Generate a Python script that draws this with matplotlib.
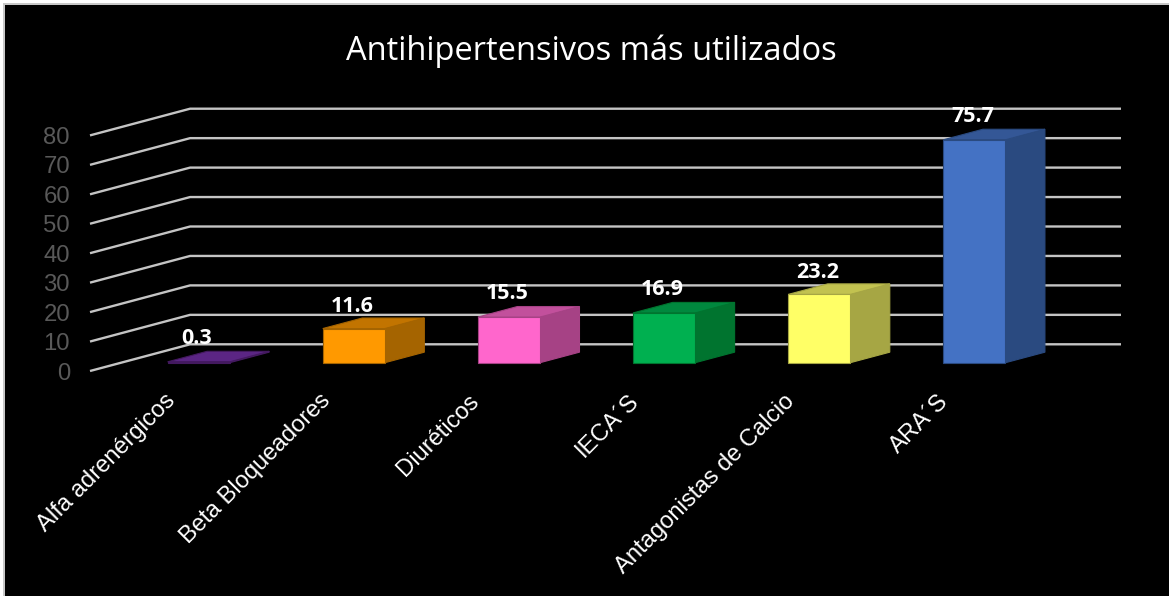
"""Antihipertensivos chart drawn as a fake 3D column chart."""

import matplotlib

matplotlib.use("Agg")
import matplotlib.pyplot as plt
from matplotlib.patches import Polygon, Rectangle

categories = [
    "Alfa adrenérgicos",
    "Beta Bloqueadores",
    "Diuréticos",
    "IECA´S",
    "Antagonistas de Calcio",
    "ARA´S",
]
values = [0.3, 11.6, 15.5, 16.9, 23.2, 75.7]
y_ticks = [0, 10, 20, 30, 40, 50, 60, 70, 80]
front_colors = ["#5b2584", "#ff9900", "#ff66cc", "#00b050", "#ffff66", "#4472c4"]
top_colors = ["#5b2584", "#c27400", "#c2509c", "#00883e", "#c2c250", "#345796"]
side_colors = ["#43195f", "#a56400", "#a64285", "#00742f", "#a6a644", "#2a4a80"]
# label offsets from the bar top, the source placed them by hand
label_nudge = [4.5, 4.0, 4.4, 4.5, 4.0, 4.4]
# axis label ends do not sit evenly under the bars in the source
category_nudge = [-3, -3, -10, -5, -5, -6]

W, H = 1169, 596
DEPTH_X = 100 / 155  # wall depth in category units
DEPTH_Y = 26.7 / 2.945  # wall depth in value units
BAR_WIDTH = 0.4
BAR_D0, BAR_D1 = 0.31, 0.705


def project(x, v, d):
    return x + d * DEPTH_X, v + d * DEPTH_Y


def draw_bar(ax, i, value, front, top, side):
    left = i - BAR_WIDTH / 2
    right = i + BAR_WIDTH / 2
    corners = {
        "fbl": project(left, 0, BAR_D0),
        "fbr": project(right, 0, BAR_D0),
        "ftl": project(left, value, BAR_D0),
        "ftr": project(right, value, BAR_D0),
        "bbr": project(right, 0, BAR_D1),
        "btl": project(left, value, BAR_D1),
        "btr": project(right, value, BAR_D1),
    }
    faces = [
        (("fbr", "bbr", "btr", "ftr"), side),
        (("ftl", "ftr", "btr", "btl"), top),
        (("fbl", "fbr", "ftr", "ftl"), front),
    ]
    for names, color in faces:
        ax.add_patch(
            Polygon([corners[n] for n in names], closed=True, facecolor=color,
                    edgecolor=side, linewidth=0.8, zorder=3, clip_on=False)
        )


fig = plt.figure(figsize=(W / 100, H / 100), dpi=100, facecolor="white")
fig.add_artist(Rectangle((3 / W, 0), (W - 3) / W, (H - 3) / H, transform=fig.transFigure,
                         facecolor="#c8c8c8", edgecolor="none", zorder=-2))
fig.add_artist(Rectangle((5 / W, 0), (W - 5) / W, (H - 5) / H, transform=fig.transFigure,
                         facecolor="black", edgecolor="none", zorder=-1))

ax = fig.add_axes([90 / W, (H - 371) / H, (1121 - 90) / W, (371 - 108.7) / H])
ax.set_xlim(-0.5, 5.5 + DEPTH_X)
ax.set_ylim(0, 80 + DEPTH_Y)
ax.axis("off")

for tick in y_ticks:
    xs, ys = zip(project(-0.5, tick, 0), project(-0.5, tick, 1), project(5.5, tick, 1))
    ax.plot(xs, ys, color="#c4c4c4", linewidth=1.7, zorder=1, clip_on=False,
            solid_capstyle="butt")
    ax.annotate(str(tick), (-0.5, tick), xytext=(-20, 0), textcoords="offset pixels",
                ha="right", va="center_baseline", color="#595959", fontsize=17.2,
                family="Liberation Sans")

for i, value in enumerate(values):
    draw_bar(ax, i, value, front_colors[i], top_colors[i], side_colors[i])
    lx, ly = project(i, value, BAR_D1)
    ax.text(i + 0.19, ly + label_nudge[i], f"{value:.1f}", ha="center", va="center", color="white",
            fontsize=15.5, fontweight="bold", family="Open Sans", zorder=4)
    ax.annotate(categories[i], (i, 0), xytext=(category_nudge[i], -19), textcoords="offset pixels",
                rotation=45, rotation_mode="anchor", ha="right", va="top",
                color="white", fontsize=17.1, family="Liberation Sans")

fig.text(591 / W, (H - 51) / H, "Antihipertensivos más utilizados", ha="center",
         va="center", color="white", fontsize=23.5, family="Open Sans")

fig.savefig("out.png", dpi=100, facecolor=fig.get_facecolor())
